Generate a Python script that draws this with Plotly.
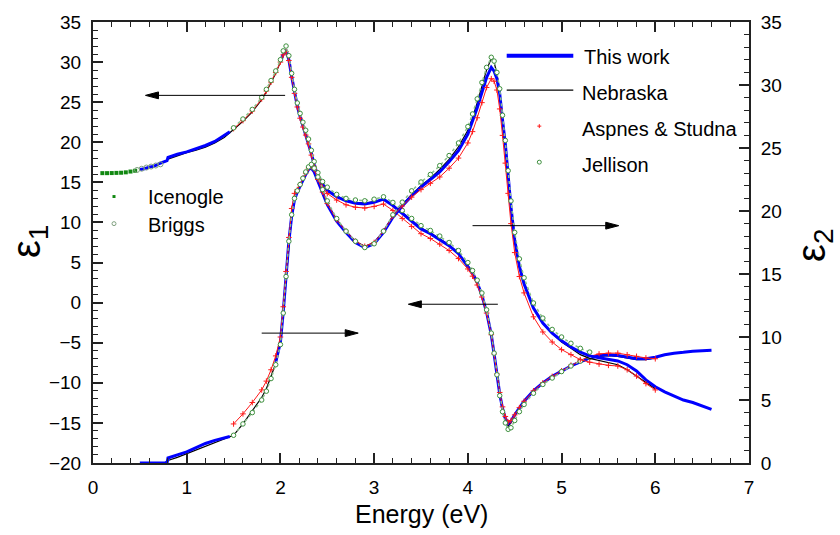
import plotly.graph_objects as go

# ---------------- data ----------------
# common energy grid (eV) for the visible/UV data sets
E_grid = [1.50, 1.60, 1.70, 1.80, 1.85, 1.90, 1.95,
          2.00, 2.03, 2.06, 2.09, 2.12, 2.15, 2.18, 2.21, 2.24, 2.27,
          2.30, 2.33, 2.36, 2.40, 2.45, 2.50,
          2.60, 2.70, 2.80, 2.90, 3.00, 3.10, 3.20, 3.30, 3.40, 3.50,
          3.60, 3.70, 3.80, 3.90, 4.00,
          4.05, 4.10, 4.15, 4.20, 4.25,
          4.28, 4.31, 4.34, 4.37, 4.40, 4.43, 4.46,
          4.50, 4.55, 4.60, 4.70, 4.80, 4.90, 5.00,
          5.10, 5.20, 5.30, 5.40, 5.50, 5.60, 5.70, 5.80, 5.90, 6.00,
          6.10, 6.20, 6.30, 6.40, 6.50, 6.60]
N = None

# This work - infrared part
tw_ir_E = [0.50, 0.55, 0.60, 0.65, 0.70, 0.75, 0.79, 0.80, 0.85, 0.90, 1.00, 1.10, 1.20, 1.30, 1.40, 1.46]
tw_ir_e1 = [16.6, 16.7, 16.9, 17.0, 17.3, 17.5, 17.7, 18.1, 18.3, 18.5, 18.8, 19.2, 19.6, 20.1, 20.8, 21.3]
tw_ir_e2 = [0.0, 0.0, 0.0, 0.0, 0.0, 0.0, 0.0, 0.4, 0.5, 0.65, 0.88, 1.2, 1.55, 1.8, 2.0, 2.1]

# This work - visible/UV part (on E_grid)
tw_e1 = [N, N, N, N, N, N, N,
         30.0, 31.0, 31.5, 30.3, 28.2, 26.2, 24.5, 23.2, 22.1, 21.1,
         20.0, 18.6, 17.2, 15.8, 14.8, 14.0,
         13.2, 12.7, 12.4, 12.3, 12.5, 12.9, 12.1, 11.1, 10.1, 9.2,
         8.6, 7.9, 7.1, 6.1, 4.6,
         3.7, 2.5, 0.9, -1.2, -4.0,
         -6.4, -9.0, -11.4, -13.2, -14.4, -15.1, -14.8,
         -14.0, -13.1, -12.3, -11.0, -10.0, -9.2, -8.5,
         -7.9, -7.4, -6.9, -6.6, -6.5, -6.6, -6.8, -7.0, -7.0, -6.8,
         -6.5, -6.3, -6.2, -6.05, -6.0, -5.93]
tw_e2 = [N, N, N, N, N, N, 8.0,
         9.6, 12.0, 14.9, 17.6, 19.6, 20.9, 21.5, 22.0, 22.5, 22.9,
         23.3, 23.4, 23.1, 22.4, 21.4, 20.5,
         19.2, 18.3, 17.5, 17.1, 17.4, 18.3, 19.5, 20.4, 21.2, 21.9,
         22.5, 23.1, 23.9, 24.8, 26.1,
         27.1, 28.2, 29.4, 30.6, 31.4,
         31.1, 30.5, 29.3, 27.2, 25.3, 22.8, 20.3,
         17.7, 15.6, 14.2, 12.3, 11.1, 10.3, 9.7,
         9.2, 8.8, 8.5, 8.35, 8.2, 8.1, 7.8, 7.3, 6.6, 6.05,
         5.65, 5.3, 5.0, 4.8, 4.5, 4.26]

# Nebraska - infrared part
neb_ir_E = [0.76, 0.80, 0.90, 1.00, 1.10, 1.20, 1.30, 1.40]
neb_ir_e1 = [17.5, 17.9, 18.3, 18.7, 19.0, 19.4, 19.9, 20.6]
neb_ir_e2 = [0.0, 0.2, 0.45, 0.75, 1.05, 1.35, 1.65, 1.9]

# Nebraska - visible/UV part (on E_grid)
neb_e1 = [21.6, 22.6, 23.8, 25.3, 26.3, 27.4, 28.6,
          30.0, 31.0, 31.5, 30.4, 28.3, 26.3, 24.6, 23.3, 22.2, 21.2,
          20.1, 18.7, 17.3, 15.9, 14.9, 14.1,
          13.3, 12.8, 12.5, 12.4, 12.6, 12.9, 12.2, 11.2, 10.2, 9.3,
          8.7, 8.0, 7.2, 6.2, 4.7,
          3.8, 2.6, 1.0, -1.1, -3.9,
          -6.4, -9.1, -11.6, -13.5, -14.8, -15.4, -15.0,
          -14.1, -13.1, -12.3, -11.0, -10.0, -9.2, -8.5,
          -7.9, -7.4, -7.0, -6.7, -6.6, -6.7, -6.9, -7.1, -7.1, -6.9,
          N, N, N, N, N, N]
neb_e2 = [2.2, 3.1, 4.1, 5.2, 5.9, 6.9, 7.9,
          9.5, 12.0, 14.9, 17.6, 19.6, 20.9, 21.5, 22.0, 22.5, 22.9,
          23.3, 23.5, 23.2, 22.5, 21.5, 20.6,
          19.3, 18.4, 17.6, 17.2, 17.5, 18.4, 19.6, 20.5, 21.3, 22.0,
          22.6, 23.3, 24.1, 25.1, 26.4,
          27.4, 28.6, 29.9, 31.2, 32.1,
          31.8, 30.9, 29.5, 27.3, 25.3, 22.8, 20.3,
          17.8, 15.7, 14.3, 12.3, 11.1, 10.3, 9.6,
          9.1, 8.6, 8.3, 8.15, 8.0, 7.8, 7.4, 6.9, 6.4, 5.9,
          N, N, N, N, N, N]

# Aspnes & Studna (on E_grid)
asp_e1 = [21.7, 22.7, 23.9, 25.4, 26.4, 27.5, 28.7,
          30.0, 30.9, 31.3, 30.2, 28.1, 26.1, 24.4, 23.0, 21.9, 20.9,
          19.8, 18.4, 17.0, 15.5, 14.4, 13.6,
          12.8, 12.2, 11.9, 11.8, 12.0, 12.3, 11.5, 10.5, 9.5, 8.6,
          8.0, 7.3, 6.5, 5.5, 4.2,
          3.3, 2.2, 0.7, -1.3, -4.0,
          -6.4, -8.9, -11.2, -13.0, -14.2, -14.9, -14.7,
          -14.0, -13.1, -12.3, -11.0, -10.0, -9.2, -8.5,
          -7.8, -7.2, -6.7, -6.4, -6.3, -6.3, -6.5, -6.7, -6.9, -7.0,
          N, N, N, N, N, N]
asp_e2 = [3.1, 3.9, 4.8, 5.8, 6.5, 7.4, 8.5,
          10.0, 12.4, 15.2, 17.9, 20.2, 21.4, 21.7, 22.1, 22.6, 23.0,
          23.4, 23.6, 23.3, 22.5, 21.5, 20.6,
          19.3, 18.4, 17.6, 17.2, 17.5, 18.4, 19.6, 20.4, 21.1, 21.7,
          22.2, 22.7, 23.4, 24.2, 25.4,
          26.3, 27.4, 28.6, 29.8, 30.5,
          30.3, 29.6, 28.1, 26.0, 23.8, 21.4, 19.0,
          16.7, 14.8, 13.5, 11.6, 10.4, 9.6, 9.0,
          8.6, 8.2, 8.0, 7.85, 7.75, 7.7, 7.4, 6.9, 6.3, 5.8,
          N, N, N, N, N, N]

# Jellison (on E_grid)
jel_e1 = [21.8, 22.9, 24.1, 25.6, 26.6, 27.7, 28.9,
          30.3, 31.4, 32.0, 30.8, 28.6, 26.6, 24.9, 23.6, 22.5, 21.5,
          20.4, 19.0, 17.6, 16.2, 15.1, 14.4,
          13.5, 13.0, 12.8, 12.7, 12.9, 13.2, 12.5, 11.5, 10.5, 9.6,
          9.0, 8.3, 7.5, 6.5, 5.0,
          4.0, 2.8, 1.2, -0.9, -3.8,
          -6.3, -9.0, -11.6, -13.6, -15.0, -15.8, -15.6,
          -14.7, -13.6, -12.7, -11.3, -10.2, -9.4, -8.6,
          -7.9, -7.3, -6.8, N, N, N, N, N, N, N,
          N, N, N, N, N, N]
jel_e2 = [2.2, 3.1, 4.0, 5.0, 5.7, 6.7, 7.8,
          9.4, 11.9, 14.8, 17.6, 19.7, 21.0, 21.6, 22.1, 22.6, 23.1,
          23.5, 23.7, 23.4, 22.7, 21.7, 20.8,
          19.4, 18.4, 17.6, 17.1, 17.4, 18.4, 19.7, 20.7, 21.6, 22.3,
          22.9, 23.6, 24.4, 25.4, 26.7,
          27.7, 28.9, 30.2, 31.4, 32.2,
          31.9, 31.0, 29.7, 27.6, 25.6, 23.2, 20.8,
          18.3, 16.2, 14.7, 12.7, 11.5, 10.6, 10.0,
          9.5, 9.1, 8.8, N, N, N, N, N, N, N,
          N, N, N, N, N, N]

# Icenogle and Briggs (epsilon_1 only, low energy)
ice_E = [0.10, 0.15, 0.20, 0.25, 0.30, 0.35, 0.40, 0.45]
ice_e1 = [16.15, 16.15, 16.16, 16.18, 16.2, 16.25, 16.35, 16.45]
bri_E = [0.47, 0.52, 0.57, 0.62, 0.67, 0.72]
bri_e1 = [16.55, 16.7, 16.85, 16.97, 17.1, 17.25]

# axis ranges / ticks
x_range = [0, 7]
y1_range = [-20, 35]
y2_range = [0, 35]

# ---------------- styling ----------------
BLUE = "#0000ff"
RED = "#ff1a1a"
GREEN = "#3d8f3d"
LIGHTGREEN = "#8cc08c"
FONT = "Liberation Sans, Arial, sans-serif"

L, R, T, B = 93, 91, 14, 72
W, H = 840, 535
PW, PH = W - L - R, H - T - B


def px(x):
    return (x - L) / PW


def py(y):
    return (H - B - y) / PH


fig = go.Figure()

# Nebraska (thin black line)
neb_E = neb_ir_E + E_grid
fig.add_trace(go.Scatter(x=neb_E, y=neb_ir_e1 + neb_e1, mode="lines",
                         line=dict(color="black", width=1.2), yaxis="y", showlegend=False))
fig.add_trace(go.Scatter(x=neb_E, y=neb_ir_e2 + neb_e2, mode="lines",
                         line=dict(color="black", width=1.2), yaxis="y2", showlegend=False))

# This work (thick blue)
for xs, ys, ax in [(tw_ir_E, tw_ir_e1, "y"), (tw_ir_E, tw_ir_e2, "y2"),
                   (E_grid, tw_e1, "y"), (E_grid, tw_e2, "y2")]:
    fig.add_trace(go.Scatter(x=xs, y=ys, mode="lines",
                             line=dict(color=BLUE, width=3), yaxis=ax, showlegend=False))

# Aspnes & Studna (red crosses)
for ys, ax in [(asp_e1, "y"), (asp_e2, "y2")]:
    fig.add_trace(go.Scatter(x=E_grid, y=ys, mode="lines+markers",
                             line=dict(color=RED, width=1),
                             marker=dict(symbol="cross-thin", size=4,
                                         line=dict(color=RED, width=1)),
                             yaxis=ax, showlegend=False))

# Jellison (green open circles forming a chain)
for ys, ax in [(jel_e1, "y"), (jel_e2, "y2")]:
    fig.add_trace(go.Scatter(x=E_grid, y=ys, mode="lines+markers",
                             line=dict(color=LIGHTGREEN, width=1.5, dash="dot"),
                             marker=dict(symbol="circle", size=4.5, color="white",
                                         line=dict(color=GREEN, width=1)),
                             yaxis=ax, showlegend=False))

# Icenogle and Briggs
fig.add_trace(go.Scatter(x=ice_E, y=ice_e1, mode="markers",
                         marker=dict(symbol="square", size=4, color="#118811"),
                         yaxis="y", showlegend=False))
fig.add_trace(go.Scatter(x=bri_E, y=bri_e1, mode="markers",
                         marker=dict(symbol="circle-open", size=5, color="#7fa07f",
                                     line=dict(width=1)),
                         yaxis="y", showlegend=False))

shapes = []
annotations = []

# arrows (tail energy, tip energy, epsilon_1 level)
arrows = [(2.05, 0.56, 25.85), (1.80, 2.83, -3.8), (4.32, 3.365, -0.2), (4.05, 5.61, 9.6)]
head_len = 13 / (PW / 7.0)
head_half = 3.5 / (PH / 55.0)
for x0, x1, yv in arrows:
    d = 1 if x1 > x0 else -1
    xb = x1 - d * head_len
    shapes.append(dict(type="line", xref="x", yref="y", x0=x0, x1=xb, y0=yv, y1=yv,
                       line=dict(color="black", width=1)))
    shapes.append(dict(type="path", xref="x", yref="y",
                       path=f"M{x1},{yv} L{xb},{yv + head_half} L{xb},{yv - head_half} Z",
                       fillcolor="black", line=dict(color="black", width=1)))

# legend (right)
shapes.append(dict(type="line", xref="paper", yref="paper", x0=px(506.7), x1=px(573.3),
                   y0=py(48.3), y1=py(48.3), line=dict(color=BLUE, width=4)))
shapes.append(dict(type="line", xref="paper", yref="paper", x0=px(506.7), x1=px(573.3),
                   y0=py(83.3), y1=py(83.3), line=dict(color="black", width=1.2)))
shapes.append(dict(type="line", xref="paper", yref="paper", x0=px(537.3), x1=px(541.3),
                   y0=py(120), y1=py(120), line=dict(color=RED, width=1)))
shapes.append(dict(type="line", xref="paper", yref="paper", x0=px(539.3), x1=px(539.3),
                   y0=py(118), y1=py(122), line=dict(color=RED, width=1)))
shapes.append(dict(type="circle", xref="paper", yref="paper", x0=px(537.3), x1=px(541.3),
                   y0=py(158.7), y1=py(154.7), line=dict(color=GREEN, width=1)))
# legend (left)
shapes.append(dict(type="rect", xref="paper", yref="paper", x0=px(112.5), x1=px(115.5),
                   y0=py(193.2), y1=py(190.2), fillcolor="#118811", line=dict(width=0)))
shapes.append(dict(type="circle", xref="paper", yref="paper", x0=px(112), x1=px(116),
                   y0=py(221.3), y1=py(217.3), line=dict(color="#7fa07f", width=1)))

leg_font = dict(family=FONT, size=20, color="black")
for txt, x, y in [("This work", 582, 50), ("Nebraska", 580, 86.5),
                  ("Aspnes &amp; Studna", 580, 123), ("Jellison", 580, 160),
                  ("Icenogle", 146, 192), ("Briggs", 146, 221)]:
    annotations.append(dict(text=txt, xref="paper", yref="paper", x=px(x), y=py(y),
                            xanchor="left", yanchor="middle", showarrow=False, font=leg_font))

# axis titles
annotations.append(dict(text="Energy (eV)", xref="paper", yref="paper", x=px(421), y=py(515),
                        xanchor="center", yanchor="middle", showarrow=False,
                        font=dict(family=FONT, size=25, color="black")))
annotations.append(dict(text="ε<sub>1</sub>", xref="paper", yref="paper", x=px(29), y=py(238),
                        xanchor="center", yanchor="middle", showarrow=False, textangle=-90,
                        font=dict(family=FONT, size=40, color="black")))
annotations.append(dict(text="ε<sub>2</sub>", xref="paper", yref="paper", x=px(814), y=py(242),
                        xanchor="center", yanchor="middle", showarrow=False, textangle=-90,
                        font=dict(family=FONT, size=40, color="black")))

tick_font = dict(family=FONT, size=19, color="black")
axis_common = dict(showline=True, linewidth=2, linecolor="#222", showgrid=False, zeroline=False,
                   ticks="inside", ticklen=10, tickwidth=1.5, tickcolor="#222",
                   tickfont=tick_font)

fig.update_layout(
    width=W, height=H, margin=dict(l=L, r=R, t=T, b=B),
    paper_bgcolor="white", plot_bgcolor="white",
    showlegend=False,
    xaxis=dict(range=x_range, dtick=1, tick0=0, mirror="ticks", ticklabelstandoff=6,
               minor=dict(dtick=0.2, ticklen=5, ticks="inside", tickcolor="#222", tickwidth=1.2),
               **axis_common),
    yaxis=dict(range=y1_range, dtick=5, tick0=0, ticklabelstandoff=6,
               minor=dict(dtick=1, ticklen=5, ticks="inside", tickcolor="#222", tickwidth=1.2),
               **axis_common),
    yaxis2=dict(range=y2_range, dtick=5, tick0=0, overlaying="y", side="right", ticklabelstandoff=6,
                minor=dict(dtick=1, ticklen=5, ticks="inside", tickcolor="#222", tickwidth=1.2),
                **axis_common),
    shapes=shapes, annotations=annotations,
)

fig.write_html("out.html")
